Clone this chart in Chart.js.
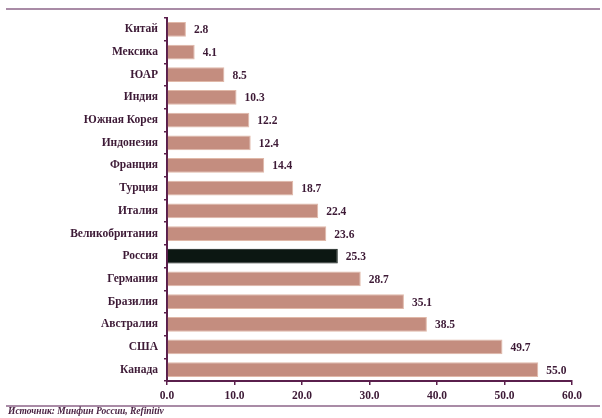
<!DOCTYPE html>
<html>
<head>
<meta charset="utf-8">
<script src="https://cdn.jsdelivr.net/npm/chart.js@4"></script>
<style>
  html, body { margin: 0; padding: 0; background: #fff; }
  #wrap { position: relative; width: 602px; height: 418px; }
  #topline { position: absolute; left: 6px; top: 8px; width: 594px; height: 2px; background: #a98ba6; }
  #botline { position: absolute; left: 6px; top: 405px; width: 594px; height: 2px; background: #a98ba6; }
  #source { position: absolute; left: 8px; top: 406px; font: italic bold 9.5px "Liberation Serif", serif; color: #4a2444; }
</style>
</head>
<body>
<div id="wrap">
  <canvas id="c" width="602" height="418"></canvas>
  <div id="topline"></div>
  <div id="botline"></div>
  <div id="source">Источник: Минфин России, Refinitiv</div>
</div>
<script>
const countries = ['Китай', 'Мексика', 'ЮАР', 'Индия', 'Южная Корея', 'Индонезия', 'Франция', 'Турция',
  'Италия', 'Великобритания', 'Россия', 'Германия', 'Бразилия', 'Австралия', 'США', 'Канада'];
const values = [2.8, 4.1, 8.5, 10.3, 12.2, 12.4, 14.4, 18.7, 22.4, 23.6, 25.3, 28.7, 35.1, 38.5, 49.7, 55.0];
const highlight = 'Россия';

const textColor = '#3d1a36';
const axisColor = '#5a1f4c';
const font = { family: '"Liberation Serif", "DejaVu Serif", serif', size: 11.5, weight: 'bold' };

const valueLabels = {
  id: 'valueLabels',
  afterDatasetsDraw(chart) {
    const ctx = chart.ctx;
    const meta = chart.getDatasetMeta(0);
    ctx.save();
    ctx.font = 'bold 11.5px "Liberation Serif", "DejaVu Serif", serif';
    ctx.fillStyle = textColor;
    ctx.textBaseline = 'middle';
    meta.data.forEach((bar, i) => {
      ctx.fillText(values[i].toFixed(1), bar.x + 8, bar.y + 1);
    });
    ctx.restore();
  }
};

new Chart(document.getElementById('c'), {
  type: 'bar',
  data: {
    labels: countries,
    datasets: [{
      data: values,
      backgroundColor: countries.map(c => c === highlight ? '#0c1712' : '#c48d7f'),
      borderColor: countries.map(c => c === highlight ? '#0c1712' : '#e0b8a8'),
      borderWidth: 1,
      barPercentage: 0.65,
      categoryPercentage: 1.0
    }]
  },
  options: {
    indexAxis: 'y',
    responsive: false,
    animation: false,
    layout: { padding: { top: 18, right: 30, left: 0, bottom: 0 } },
    plugins: { legend: { display: false }, tooltip: { enabled: false } },
    scales: {
      x: {
        min: 0, max: 60,
        ticks: { stepSize: 10, color: textColor, font: font, padding: 4,
          callback: v => Number(v).toFixed(1) },
        grid: { display: true, drawOnChartArea: false, tickLength: 4, color: axisColor, lineWidth: 1.5 },
        border: { display: true, color: axisColor, width: 2 },
        afterFit(s) { s.height = 37; }
      },
      y: {
        ticks: { color: textColor, font: font, padding: 6 },
        grid: { display: true, drawOnChartArea: false, offset: true, tickLength: 3, color: axisColor, lineWidth: 1.5 },
        border: { display: true, color: axisColor, width: 2 },
        afterFit(s) { s.width = 167; }
      }
    }
  },
  plugins: [valueLabels]
});
</script>
</body>
</html>
